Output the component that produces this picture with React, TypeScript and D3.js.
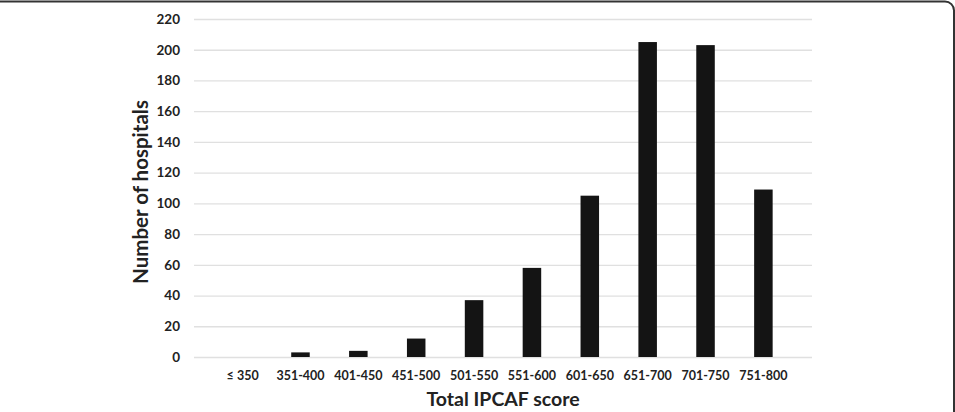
import React, { useEffect, useRef } from 'react';
import * as d3 from 'd3';

const categories = ['≤ 350', '351-400', '401-450', '451-500', '501-550', '551-600', '601-650', '651-700', '701-750', '751-800'];
const hospitals = [0, 3, 4, 12, 37, 58, 105, 205, 203, 109];
const yTicks = [0, 20, 40, 60, 80, 100, 120, 140, 160, 180, 200, 220];

const App: React.FC = () => {
  const svgRef = useRef<SVGSVGElement | null>(null);

  useEffect(() => {
    if (!svgRef.current) return;
    const svg = d3.select(svgRef.current);
    svg.selectAll('*').remove();

    const width = 955;
    const height = 412;
    const margin = { top: 19, right: 143, bottom: 55, left: 194 };
    const font = 'Lato, "Open Sans", sans-serif';

    // outer frame
    svg.append('rect')
      .attr('x', -20).attr('y', 1.5)
      .attr('width', 974).attr('height', 440)
      .attr('rx', 9)
      .attr('fill', 'none')
      .attr('stroke', '#333')
      .attr('stroke-width', 2);

    const x = d3.scaleBand()
      .domain(categories)
      .range([margin.left, width - margin.right])
      .padding(0.68);

    const y = d3.scaleLinear()
      .domain([0, 220])
      .range([height - margin.bottom, margin.top]);

    const data = categories.map((c, i) => ({ category: c, value: hospitals[i] }));

    const yAxis = svg.append('g')
      .attr('transform', `translate(${margin.left},0)`)
      .call(d3.axisLeft(y).tickValues(yTicks).tickSize(-(width - margin.left - margin.right)).tickPadding(14));
    yAxis.select('.domain').remove();
    yAxis.selectAll('.tick line').attr('stroke', '#e0e0e0').attr('stroke-width', 1.3);
    yAxis.selectAll('.tick text')
      .attr('font-family', font).attr('font-weight', 'bold')
      .attr('font-size', 13.5).attr('fill', '#222');

    const xAxis = svg.append('g')
      .attr('transform', `translate(0,${height - margin.bottom})`)
      .call(d3.axisBottom(x).tickSize(0).tickPadding(14));
    xAxis.select('.domain').remove();
    xAxis.selectAll('.tick text')
      .attr('font-family', font).attr('font-weight', 'bold')
      .attr('font-size', 12.5).attr('fill', '#222');

    svg.selectAll('.bar')
      .data(data)
      .enter().append('rect')
      .attr('class', 'bar')
      .attr('x', d => x(d.category) || 0)
      .attr('y', d => y(d.value))
      .attr('width', x.bandwidth())
      .attr('height', d => y(0) - y(d.value))
      .attr('fill', '#141414');

    svg.append('text')
      .attr('x', (margin.left + width - margin.right) / 2)
      .attr('y', 406)
      .attr('text-anchor', 'middle')
      .attr('font-family', font).attr('font-weight', 'bold')
      .attr('font-size', 19.5).attr('fill', '#222')
      .text('Total IPCAF score');

    svg.append('text')
      .attr('transform', `translate(148,${(margin.top + height - margin.bottom) / 2 + 4}) rotate(-90)`)
      .attr('text-anchor', 'middle')
      .attr('font-family', font).attr('font-weight', 'bold')
      .attr('font-size', 20.5).attr('fill', '#222')
      .text('Number of hospitals');
  }, []);

  return (
    <svg ref={svgRef} width={955} height={412}
      style={{ position: 'absolute', left: 0, top: 0, background: '#fff' }} />
  );
};

export default App;
